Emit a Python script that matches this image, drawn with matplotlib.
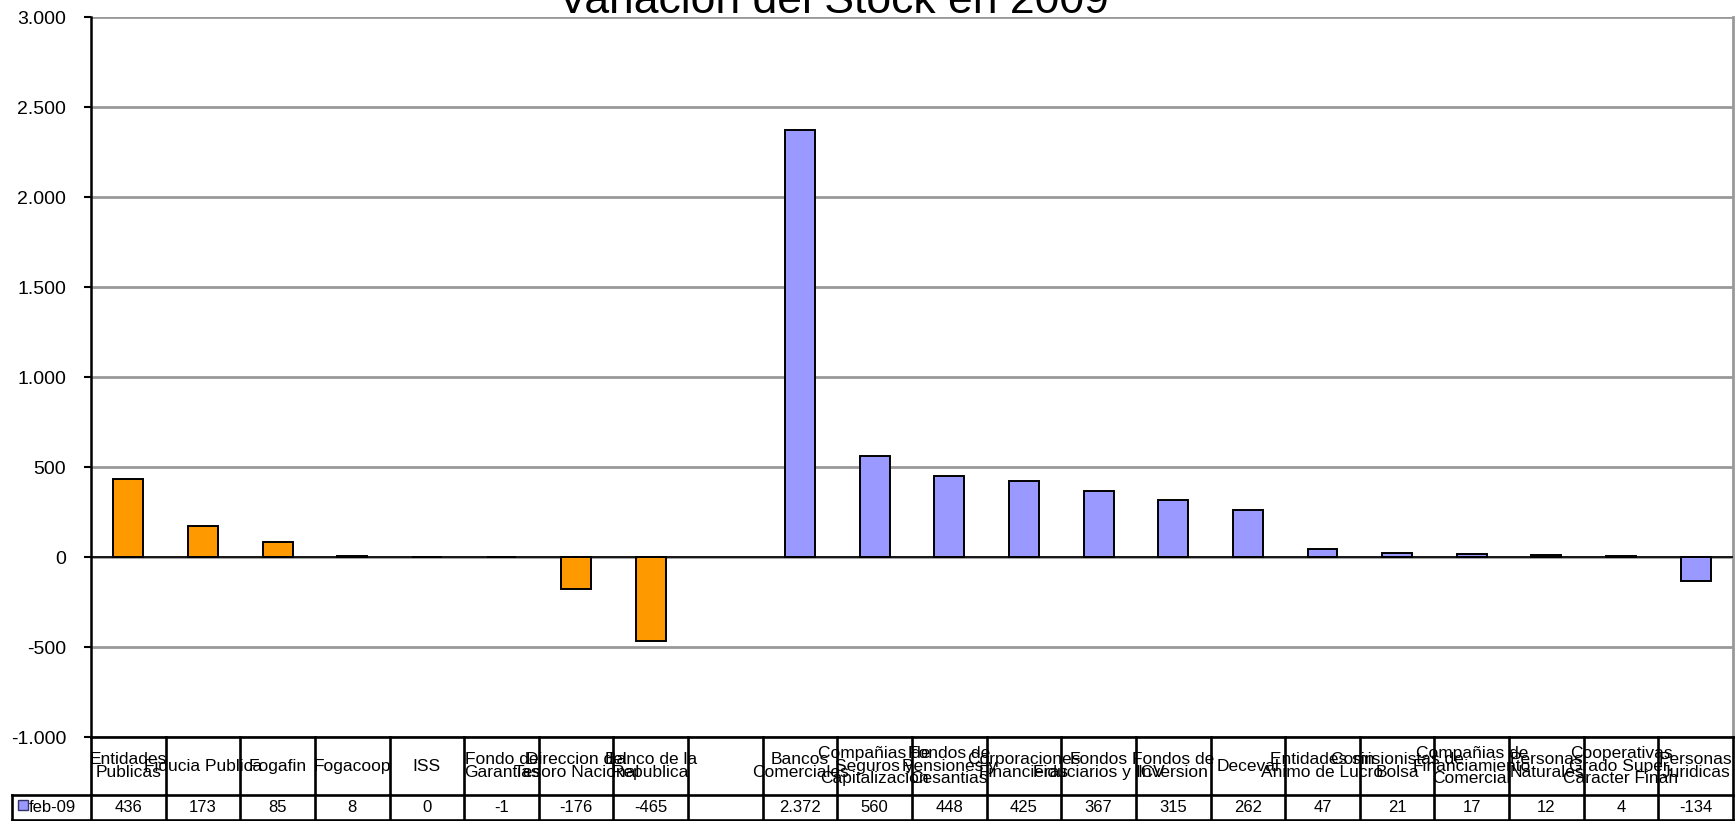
import numpy as np
import matplotlib
matplotlib.use("Agg")
import matplotlib.pyplot as plt
from matplotlib.ticker import FuncFormatter, MultipleLocator

plt.rcParams['font.family'] = ['Liberation Sans', 'DejaVu Sans']

# data (feb-09, variation of stock)
categories = [
    "Entidades\nPublicas", "Fiducia Publica", "Fogafin", "Fogacoop", "ISS",
    "Fondo de\nGarantias", "Direccion del\nTesoro Nacional", "Banco de la\nRepublica", "",
    "Bancos\nComerciales", "Compañias de\nSeguros y\nCapitalizacion", "Fondos de\nPensiones y\nCesantias",
    "Corporaciones\nFinancieras", "Fondos\nFiduciarios y ICV", "Fondos de\nInversion", "Deceval",
    "Entidades sin\nAnimo de Lucro", "Comisionistas de\nBolsa", "Compañias de\nFinanciamiento\nComercial",
    "Personas\nNaturales", "Cooperativas\nGrado Super.\nCaracter Finan", "Personas\nJuridicas",
]
values = [436, 173, 85, 8, 0, -1, -176, -465, np.nan,
          2372, 560, 448, 425, 367, 315, 262, 47, 21, 17, 12, 4, -134]
series_name = "feb-09"
n_public = 8  # first group drawn in orange

ORANGE = "#FF9900"
LAVENDER = "#9999FF"

def fmt_num(v, pos=None):
    return f"{int(round(v)):,}".replace(",", ".")

W, H = 1735, 821
fig = plt.figure(figsize=(W / 100, H / 100), dpi=100)
ax_left, ax_right, ax_top, ax_bot = 91, 1733, 17, 737
ax = fig.add_axes([ax_left / W, 1 - ax_bot / H, (ax_right - ax_left) / W, (ax_bot - ax_top) / H])

x = np.arange(len(categories))
colors = [ORANGE if i < n_public else LAVENDER for i in range(len(categories))]
vals = np.array(values, dtype=float)
mask = ~np.isnan(vals)
ax.bar(x[mask], vals[mask], width=0.4, color=np.array(colors)[mask],
       edgecolor="black", linewidth=1.4, zorder=3)

ax.set_xlim(-0.5, len(categories) - 0.5)
ax.set_ylim(-1000, 3000)
ax.yaxis.set_major_locator(MultipleLocator(500))
ax.yaxis.set_major_formatter(FuncFormatter(fmt_num))
ax.grid(axis="y", color="#999999", linewidth=2.0, zorder=0)
ax.axhline(0, color="black", linewidth=1.2, zorder=4)
ax.set_xticks([])
ax.tick_params(axis="y", length=5, width=1.5, pad=13, labelsize=14, direction="out")

for s in ["top", "bottom"]:
    ax.spines[s].set_visible(False)
ax.spines["left"].set_color("black")
ax.spines["left"].set_linewidth(1.8)
ax.spines["right"].set_color("#999999")
ax.spines["right"].set_linewidth(2.0)

# data table under the plot (x in data units, y in axes fraction)
trans = ax.get_xaxis_transform()
px_y = 1.0 / (ax_bot - ax_top)
px_x = len(categories) / (ax_right - ax_left)
y_mid = -(795 - ax_bot) * px_y
y_low = -(820 - ax_bot) * px_y
x0 = -0.5
x1 = len(categories) - 0.5
x_lab = x0 - (ax_left - 12) * px_x

lk = dict(transform=trans, clip_on=False, color="black", linewidth=1.9, zorder=5)
ax.plot([x0, x1], [0, 0], **lk)
ax.plot([x_lab, x1], [y_mid, y_mid], **lk)
ax.plot([x_lab, x1], [y_low, y_low], **lk)
for k in range(len(categories) + 1):
    ax.plot([x0 + k, x0 + k], [0, y_low], **lk)
ax.plot([x_lab, x_lab], [y_mid, y_low], **lk)

for i, (lab, v) in enumerate(zip(categories, values)):
    ax.text(i, y_mid / 2, lab, transform=trans, ha="center", va="center",
            fontsize=12.5, linespacing=0.78, clip_on=False)
    if not np.isnan(v):
        ax.text(i, (y_mid + y_low) / 2, fmt_num(v), transform=trans,
                ha="center", va="center", fontsize=12, clip_on=False)

ax.plot([x0 - (ax_left - 23) * px_x], [(y_mid + y_low) / 2 + 0.004], marker="s", markersize=7,
        markerfacecolor=LAVENDER, markeredgecolor="#333366", markeredgewidth=1.0,
        transform=trans, clip_on=False, zorder=6)
ax.text(x0 - (ax_left - 29) * px_x, (y_mid + y_low) / 2, series_name, transform=trans,
        ha="left", va="center", fontsize=12, clip_on=False)

fig.text(833 / W, 1 - 13 / H, "Variacion del Stock en 2009", ha="center", va="baseline",
         fontsize=32)

fig.savefig("out.png", dpi=100)
